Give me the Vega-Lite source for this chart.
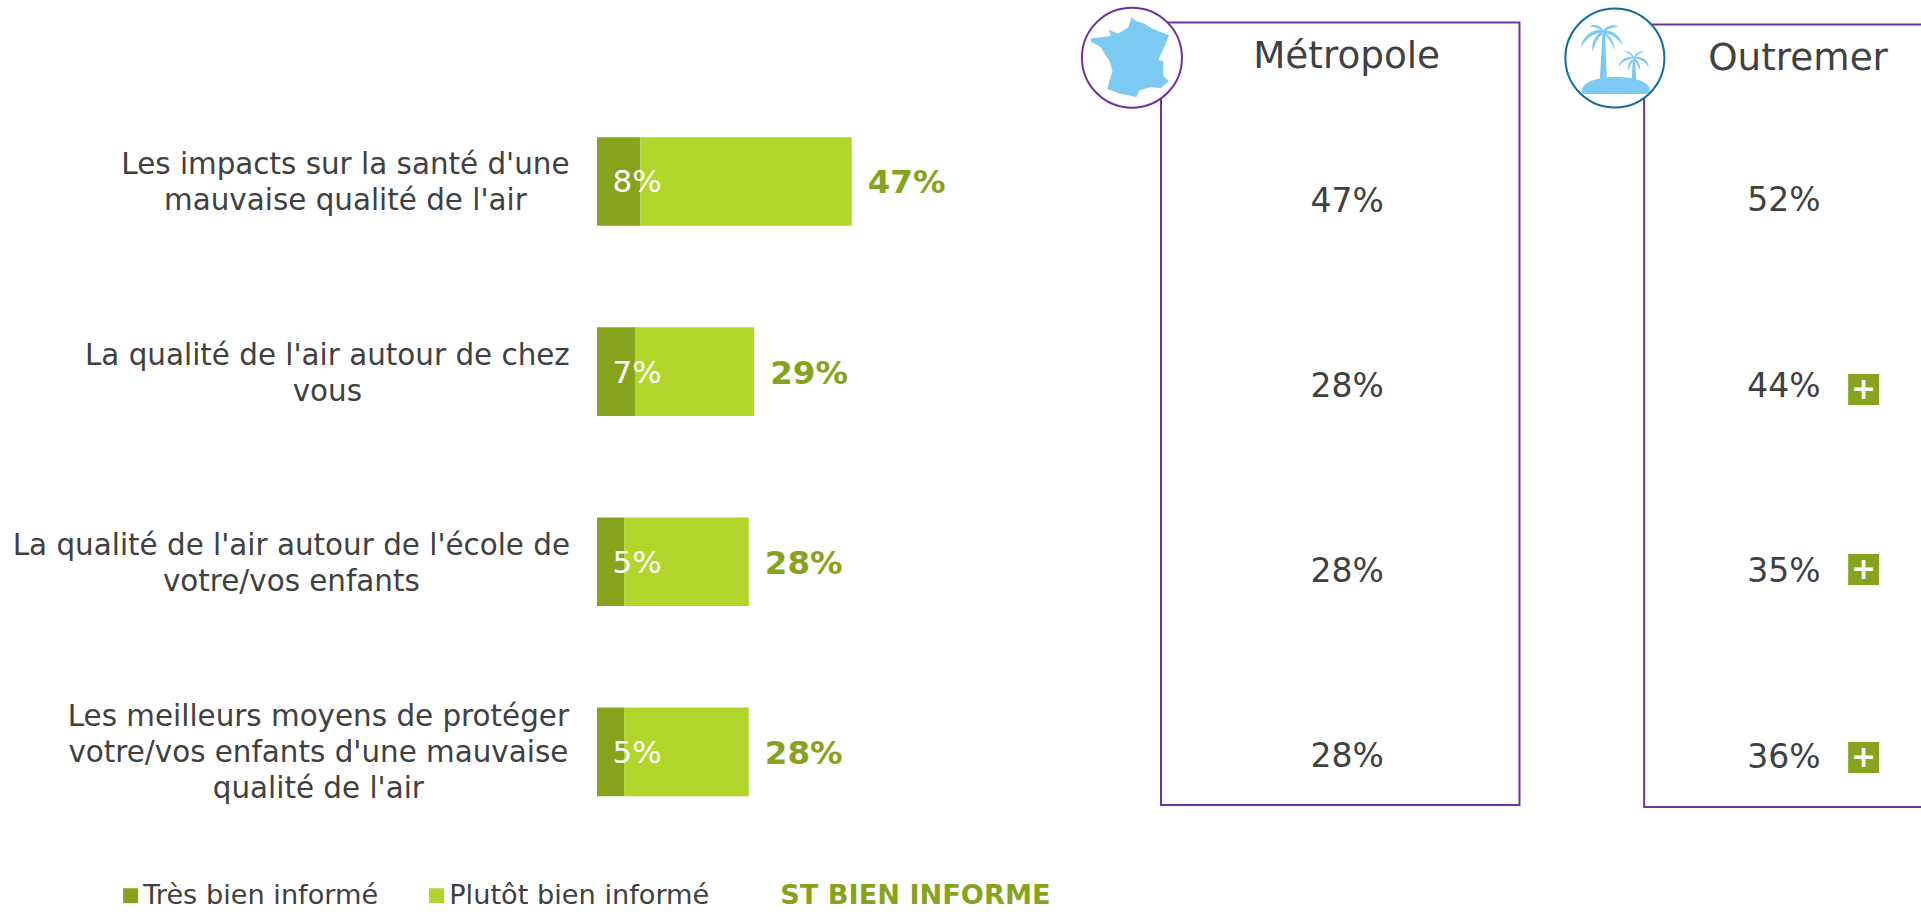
{
"$schema":"https://vega.github.io/schema/vega-lite/v6.json",
"width":1921,"height":912,"autosize":{"type":"fit","contains":"padding"},"padding":0,"background":"white",
"config":{"view":{"stroke":null},"text":{"font":"DejaVu Sans","fill":"#404040"}},
"datasets":{
"parts":[
{"question":"Les impacts sur la santé d'une\nmauvaise qualité de l'air","niveau":"Très bien informé","ordre":1,"part":0.08},
{"question":"Les impacts sur la santé d'une\nmauvaise qualité de l'air","niveau":"Plutôt bien informé","ordre":2,"part":0.39},
{"question":"La qualité de l'air autour de chez\nvous","niveau":"Très bien informé","ordre":1,"part":0.07},
{"question":"La qualité de l'air autour de chez\nvous","niveau":"Plutôt bien informé","ordre":2,"part":0.22},
{"question":"La qualité de l'air autour de l'école de\nvotre/vos enfants","niveau":"Très bien informé","ordre":1,"part":0.05},
{"question":"La qualité de l'air autour de l'école de\nvotre/vos enfants","niveau":"Plutôt bien informé","ordre":2,"part":0.23},
{"question":"Les meilleurs moyens de protéger\nvotre/vos enfants d'une mauvaise\nqualité de l'air","niveau":"Très bien informé","ordre":1,"part":0.05},
{"question":"Les meilleurs moyens de protéger\nvotre/vos enfants d'une mauvaise\nqualité de l'air","niveau":"Plutôt bien informé","ordre":2,"part":0.23}],
"totaux":[
{"rang":1,"question":"Les impacts sur la santé d'une\nmauvaise qualité de l'air","tres":0.08,"total":0.47,"serie":"ST BIEN INFORME"},
{"rang":2,"question":"La qualité de l'air autour de chez\nvous","tres":0.07,"total":0.29,"serie":"ST BIEN INFORME"},
{"rang":3,"question":"La qualité de l'air autour de l'école de\nvotre/vos enfants","tres":0.05,"total":0.28,"serie":"ST BIEN INFORME"},
{"rang":4,"question":"Les meilleurs moyens de protéger\nvotre/vos enfants d'une mauvaise\nqualité de l'air","tres":0.05,"total":0.28,"serie":"ST BIEN INFORME"}],
"panneaux":[
{"rang":1,"groupe":"Métropole","valeur":0.47,"signif":""},
{"rang":2,"groupe":"Métropole","valeur":0.28,"signif":""},
{"rang":3,"groupe":"Métropole","valeur":0.28,"signif":""},
{"rang":4,"groupe":"Métropole","valeur":0.28,"signif":""},
{"rang":1,"groupe":"Outremer","valeur":0.52,"signif":""},
{"rang":2,"groupe":"Outremer","valeur":0.44,"signif":"+"},
{"rang":3,"groupe":"Outremer","valeur":0.35,"signif":"+"},
{"rang":4,"groupe":"Outremer","valeur":0.36,"signif":"+"}],
"entetes":[{"groupe":"Métropole"},{"groupe":"Outremer"}]
},
"resolve":{"scale":{"y":"independent"}},
"layer":[
{"data":{"name":"parts"},"mark":{"type":"bar"},
 "encoding":{
  "x":{"field":"part","type":"quantitative","stack":"zero","axis":null,"scale":{"domain":[-1.1015,2.4428],"nice":false,"zero":false}},
  "y":{"field":"question","type":"nominal","sort":null,"axis":null,"scale":{"type":"band","range":[86.4,847],"paddingInner":0.534,"paddingOuter":0.267}},
  "order":{"field":"ordre"},
  "color":{"field":"niveau","type":"nominal","scale":{"domain":["Très bien informé","Plutôt bien informé","ST BIEN INFORME"],"range":["#87A31E","#B0D62B","#87A31E"]},
   "legend":{"title":null,"orient":"none","legendX":117,"legendY":882,"direction":"horizontal","columns":3,"columnPadding":44,"symbolType":"square","symbolSize":225,"symbolStrokeWidth":0,"labelFont":"DejaVu Sans","labelFontSize":27.2,"labelColor":"#404040","labelOffset":-1,"labelLimit":0,"padding":0,
    "encoding":{"symbols":{"opacity":{"condition":{"test":"datum.label==='ST BIEN INFORME'","value":0},"value":1}},
     "labels":{"fontWeight":{"condition":{"test":"datum.label==='ST BIEN INFORME'","value":"bold"},"value":"normal"},"fill":{"condition":{"test":"datum.label==='ST BIEN INFORME'","value":"#87A31E"},"value":"#404040"}}}}}
 }},
{"data":{"name":"totaux"},"mark":{"type":"text","align":"center","baseline":"middle","fontSize":31,"fill":"white","dy":2},
 "encoding":{"x":{"datum":0.0738,"type":"quantitative","scale":{"domain":[-1.1015,2.4428],"nice":false,"zero":false}},
  "y":{"field":"question","type":"nominal","sort":null,"axis":null,"scale":{"type":"band","range":[86.4,847],"paddingInner":0.534,"paddingOuter":0.267}},
  "text":{"field":"tres","type":"quantitative","format":".0%"}}},
{"data":{"name":"totaux"},"mark":{"type":"text","align":"left","baseline":"middle","fontSize":32.5,"fontWeight":"bold","dx":16,"dy":2},
 "encoding":{"x":{"field":"total","type":"quantitative","scale":{"domain":[-1.1015,2.4428],"nice":false,"zero":false}},
  "y":{"field":"question","type":"nominal","sort":null,"axis":null,"scale":{"type":"band","range":[86.4,847],"paddingInner":0.534,"paddingOuter":0.267}},
  "color":{"field":"serie","type":"nominal","legend":null,"scale":{"domain":["Très bien informé","Plutôt bien informé","ST BIEN INFORME"],"range":["#87A31E","#B0D62B","#87A31E"]}},
  "text":{"field":"total","type":"quantitative","format":".0%"}}},
{"data":{"name":"totaux"},"transform":[{"filter":"datum.rang===1"}],"mark":{"type":"text","align":"center","baseline":"middle","fontSize":29.4,"lineBreak":"\n","lineHeight":36,"dy":-16},
 "encoding":{"x":{"datum":-0.4642,"type":"quantitative","scale":{"domain":[-1.1015,2.4428],"nice":false,"zero":false}},
  "y":{"field":"question","type":"nominal","sort":null,"axis":null,"scale":{"type":"band","domain":["Les impacts sur la santé d'une\nmauvaise qualité de l'air","La qualité de l'air autour de chez\nvous","La qualité de l'air autour de l'école de\nvotre/vos enfants","Les meilleurs moyens de protéger\nvotre/vos enfants d'une mauvaise\nqualité de l'air"],"range":[86.4,847],"paddingInner":0.534,"paddingOuter":0.267}},
  "text":{"field":"question"}}},
{"data":{"name":"totaux"},"transform":[{"filter":"datum.rang===2"}],"mark":{"type":"text","align":"center","baseline":"middle","fontSize":29.4,"lineBreak":"\n","lineHeight":36,"dy":-16},
 "encoding":{"x":{"datum":-0.4975,"type":"quantitative","scale":{"domain":[-1.1015,2.4428],"nice":false,"zero":false}},
  "y":{"field":"question","type":"nominal","sort":null,"axis":null,"scale":{"type":"band","domain":["Les impacts sur la santé d'une\nmauvaise qualité de l'air","La qualité de l'air autour de chez\nvous","La qualité de l'air autour de l'école de\nvotre/vos enfants","Les meilleurs moyens de protéger\nvotre/vos enfants d'une mauvaise\nqualité de l'air"],"range":[86.4,847],"paddingInner":0.534,"paddingOuter":0.267}},
  "text":{"field":"question"}}},
{"data":{"name":"totaux"},"transform":[{"filter":"datum.rang===3"}],"mark":{"type":"text","align":"center","baseline":"middle","fontSize":29.4,"lineBreak":"\n","lineHeight":36,"dy":-16},
 "encoding":{"x":{"datum":-0.5639,"type":"quantitative","scale":{"domain":[-1.1015,2.4428],"nice":false,"zero":false}},
  "y":{"field":"question","type":"nominal","sort":null,"axis":null,"scale":{"type":"band","domain":["Les impacts sur la santé d'une\nmauvaise qualité de l'air","La qualité de l'air autour de chez\nvous","La qualité de l'air autour de l'école de\nvotre/vos enfants","Les meilleurs moyens de protéger\nvotre/vos enfants d'une mauvaise\nqualité de l'air"],"range":[86.4,847],"paddingInner":0.534,"paddingOuter":0.267}},
  "text":{"field":"question"}}},
{"data":{"name":"totaux"},"transform":[{"filter":"datum.rang===4"}],"mark":{"type":"text","align":"center","baseline":"middle","fontSize":29.4,"lineBreak":"\n","lineHeight":36,"dy":-35},
 "encoding":{"x":{"datum":-0.5141,"type":"quantitative","scale":{"domain":[-1.1015,2.4428],"nice":false,"zero":false}},
  "y":{"field":"question","type":"nominal","sort":null,"axis":null,"scale":{"type":"band","domain":["Les impacts sur la santé d'une\nmauvaise qualité de l'air","La qualité de l'air autour de chez\nvous","La qualité de l'air autour de l'école de\nvotre/vos enfants","Les meilleurs moyens de protéger\nvotre/vos enfants d'une mauvaise\nqualité de l'air"],"range":[86.4,847],"paddingInner":0.534,"paddingOuter":0.267}},
  "text":{"field":"question"}}},

{"data":{"name":"entetes"},"transform":[{"filter":"datum.groupe==='Métropole'"}],"mark":{"type":"rect","fill":"white","fillOpacity":0,"stroke":"#7030A0","strokeWidth":2},
 "encoding":{"x":{"datum":1.0406,"type":"quantitative","scale":{"domain":[-1.1015,2.4428],"nice":false,"zero":false}},"x2":{"datum":1.702},
  "y":{"datum":0,"type":"quantitative","axis":null,"scale":{"domain":[0,1],"range":[22.5,805],"nice":false,"zero":false}},"y2":{"datum":1}}},
{"data":{"name":"entetes"},"transform":[{"filter":"datum.groupe==='Outremer'"}],"mark":{"type":"rect","clip":true,"fill":"white","fillOpacity":0,"stroke":"#7030A0","strokeWidth":2},
 "encoding":{"x":{"datum":1.932,"type":"quantitative","scale":{"domain":[-1.1015,2.4428],"nice":false,"zero":false}},"x2":{"datum":2.7},
  "y":{"datum":0,"type":"quantitative","axis":null,"scale":{"domain":[0,1],"range":[24.5,807],"nice":false,"zero":false}},"y2":{"datum":1}}},
{"data":{"name":"entetes"},"transform":[{"filter":"datum.groupe==='Métropole'"}],"mark":{"type":"point","shape":"circle","size":10000,"filled":true,"fill":"white","fillOpacity":1,"stroke":"#7030A0","strokeWidth":2,"opacity":1},
 "encoding":{"x":{"datum":0.987,"type":"quantitative","scale":{"domain":[-1.1015,2.4428],"nice":false,"zero":false}},
  "y":{"datum":0.045,"type":"quantitative","axis":null,"scale":{"domain":[0,1],"range":[22.5,805],"nice":false,"zero":false}}}},
{"data":{"name":"entetes"},"transform":[{"filter":"datum.groupe==='Outremer'"}],"mark":{"type":"point","shape":"circle","size":9800,"filled":true,"fill":"white","fillOpacity":1,"stroke":"#0E6E9E","strokeWidth":2,"opacity":1},
 "encoding":{"x":{"datum":1.878,"type":"quantitative","scale":{"domain":[-1.1015,2.4428],"nice":false,"zero":false}},
  "y":{"datum":0.0428,"type":"quantitative","axis":null,"scale":{"domain":[0,1],"range":[24.5,807],"nice":false,"zero":false}}}},
{"data":{"name":"entetes"},"transform":[{"filter":"datum.groupe==='Métropole'"}],"mark":{"type":"point","filled":true,"fill":"#7CC9F1","opacity":1,"strokeWidth":0,"size":6400,
  "shape":"M.01 -1.01L.14 -.91L.34 -.85L.55 -.72L.95 -.56L.81 -.2L.68 .05L.81 .09L.81 .46L.95 .58L.75 .76L.48 .74L.21 .82L.14 .98L-.26 .9L-.59 .78L-.46 .33L-.53 .09L-.77 -.28L-1 -.4L-1 -.48L-.5 -.54L-.55 -.7L-.32 -.6L-.06 -.76Z"},
 "encoding":{"x":{"datum":0.985,"type":"quantitative","scale":{"domain":[-1.1015,2.4428],"nice":false,"zero":false}},
  "y":{"datum":0.045,"type":"quantitative","axis":null,"scale":{"domain":[0,1],"range":[22.5,805],"nice":false,"zero":false}}}},
{"data":{"name":"entetes"},"transform":[{"filter":"datum.groupe==='Outremer'"}],"mark":{"type":"point","filled":true,"fill":"#7CC9F1","opacity":1,"strokeWidth":0,"size":5184,
  "shape":"M-.32 -.78C-.6 -.82 -.92 -.6 -.94 -.3C-.8 -.55 -.6 -.68 -.32 -.72ZM-.32 -.76C-.55 -.65 -.66 -.45 -.62 -.17C-.55 -.42 -.45 -.6 -.3 -.7ZM-.32 -.78C-.42 -.92 -.6 -.95 -.72 -.88C-.58 -.88 -.45 -.82 -.32 -.72ZM-.32 -.78C-.2 -.92 0 -.95 .1 -.86C-.05 -.87 -.2 -.8 -.3 -.72ZM-.32 -.76C-.1 -.8 .15 -.65 .22 -.35C.08 -.55 -.1 -.67 -.3 -.7ZM-.32 -.74C-.15 -.65 -.02 -.45 0 -.2C-.08 -.42 -.2 -.58 -.32 -.68ZM-.34 -.78L-.28 -.78L-.22 .61L-.42 .61ZM.53 -.03C.35 -.06 .14 .03 .1 .25C.2 .1 .35 .03 .53 .01ZM.53 -.03C.72 -.06 .92 .03 .94 .25C.84 .1 .7 .03 .53 .01ZM.53 -.03C.45 -.15 .35 -.22 .25 -.17C.35 -.15 .45 -.08 .53 .01ZM.53 -.03C.6 -.15 .72 -.22 .82 -.17C.72 -.15 .6 -.08 .53 .01ZM.53 -.01C.42 .05 .34 .2 .36 .35C.42 .2 .48 .1 .55 .02ZM.53 -.01C.64 .05 .72 .2 .7 .35C.64 .2 .58 .1 .51 .02ZM.5 -.03L.56 -.03L.59 .6L.47 .6ZM-.92 .94C-.92 .65 -.45 .53 .02 .53C.5 .53 .97 .65 .97 .88C.97 .97 .9 1 .8 1L-.8 1C-.9 1 -.92 .98 -.92 .94Z"},
 "encoding":{"x":{"datum":1.878,"type":"quantitative","scale":{"domain":[-1.1015,2.4428],"nice":false,"zero":false}},
  "y":{"datum":0.0428,"type":"quantitative","axis":null,"scale":{"domain":[0,1],"range":[24.5,807],"nice":false,"zero":false}}}},
{"data":{"name":"entetes"},"transform":[{"filter":"datum.groupe==='Métropole'"}],"mark":{"type":"text","align":"center","baseline":"middle","fontSize":37.3,"dy":1},
 "encoding":{"x":{"datum":1.383,"type":"quantitative","scale":{"domain":[-1.1015,2.4428],"nice":false,"zero":false}},
  "y":{"datum":0.0428,"type":"quantitative","axis":null,"scale":{"domain":[0,1],"range":[22.5,805],"nice":false,"zero":false}},
  "text":{"field":"groupe"}}},
{"data":{"name":"entetes"},"transform":[{"filter":"datum.groupe==='Outremer'"}],"mark":{"type":"text","align":"center","baseline":"middle","fontSize":37.3,"dy":1},
 "encoding":{"x":{"datum":2.216,"type":"quantitative","scale":{"domain":[-1.1015,2.4428],"nice":false,"zero":false}},
  "y":{"datum":0.0428,"type":"quantitative","axis":null,"scale":{"domain":[0,1],"range":[24.5,807],"nice":false,"zero":false}},
  "text":{"field":"groupe"}}},
{"data":{"name":"panneaux"},"transform":[{"filter":"datum.groupe==='Métropole'"}],"mark":{"type":"text","align":"center","baseline":"middle","fontSize":33,"dy":1},
 "encoding":{"x":{"datum":1.384,"type":"quantitative","scale":{"domain":[-1.1015,2.4428],"nice":false,"zero":false}},
  "y":{"field":"rang","type":"ordinal","axis":null,"scale":{"type":"point","range":[201,756],"padding":0}},
  "text":{"field":"valeur","type":"quantitative","format":".0%"}}},
{"data":{"name":"panneaux"},"transform":[{"filter":"datum.groupe==='Outremer'"}],"mark":{"type":"text","align":"center","baseline":"middle","fontSize":33,"dy":1},
 "encoding":{"x":{"datum":2.19,"type":"quantitative","scale":{"domain":[-1.1015,2.4428],"nice":false,"zero":false}},
  "y":{"field":"rang","type":"ordinal","axis":null,"scale":{"type":"point","range":[200,756.5],"padding":0}},
  "text":{"field":"valeur","type":"quantitative","format":".0%"}}},
{"data":{"name":"panneaux"},"transform":[{"filter":"datum.groupe==='Outremer' && datum.signif==='+' && datum.rang!==3"}],"mark":{"type":"point","shape":"square","filled":true,"fill":"#87A31E","opacity":1,"size":961,"strokeWidth":0},
 "encoding":{"x":{"datum":2.337,"type":"quantitative","scale":{"domain":[-1.1015,2.4428],"nice":false,"zero":false}},
  "y":{"field":"rang","type":"ordinal","axis":null,"scale":{"type":"point","range":[389.5,757.5],"padding":0}}}},
{"data":{"name":"panneaux"},"transform":[{"filter":"datum.groupe==='Outremer' && datum.signif==='+' && datum.rang===3"}],"mark":{"type":"point","shape":"square","filled":true,"fill":"#87A31E","opacity":1,"size":961,"strokeWidth":0},
 "encoding":{"x":{"datum":2.337,"type":"quantitative","scale":{"domain":[-1.1015,2.4428],"nice":false,"zero":false}},
  "y":{"field":"rang","type":"ordinal","axis":null,"scale":{"type":"point","range":[569.5,569.5],"padding":0.5}}}},
{"data":{"name":"panneaux"},"transform":[{"filter":"datum.groupe==='Outremer' && datum.signif==='+' && datum.rang!==3"}],"mark":{"type":"text","align":"center","baseline":"middle","fontSize":30,"fontWeight":"bold","fill":"white"},
 "encoding":{"x":{"datum":2.337,"type":"quantitative","scale":{"domain":[-1.1015,2.4428],"nice":false,"zero":false}},
  "y":{"field":"rang","type":"ordinal","axis":null,"scale":{"type":"point","range":[389.5,757.5],"padding":0}},
  "text":{"field":"signif"}}},
{"data":{"name":"panneaux"},"transform":[{"filter":"datum.groupe==='Outremer' && datum.signif==='+' && datum.rang===3"}],"mark":{"type":"text","align":"center","baseline":"middle","fontSize":30,"fontWeight":"bold","fill":"white"},
 "encoding":{"x":{"datum":2.337,"type":"quantitative","scale":{"domain":[-1.1015,2.4428],"nice":false,"zero":false}},
  "y":{"field":"rang","type":"ordinal","axis":null,"scale":{"type":"point","range":[569.5,569.5],"padding":0.5}},
  "text":{"field":"signif"}}}
]
}
